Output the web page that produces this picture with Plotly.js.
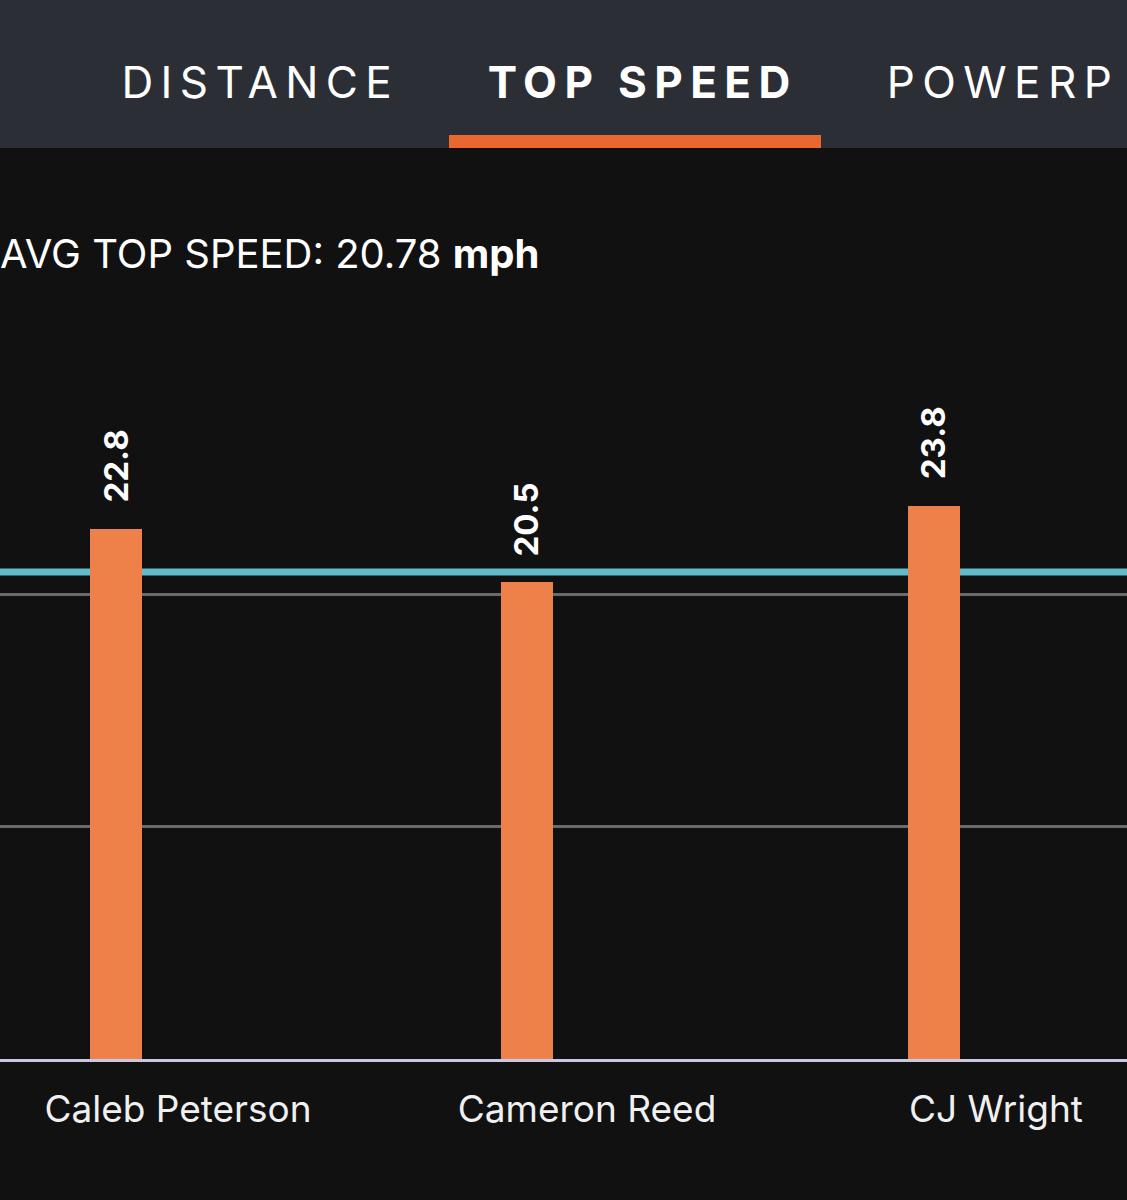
<!DOCTYPE html>
<html>
<head>
<meta charset="utf-8">
<script src="https://cdn.plot.ly/plotly-3.0.1.min.js"></script>
<style>
html,body{margin:0;padding:0;background:#111112;overflow:hidden}
.annotation[data-index="0"] text{letter-spacing:7.4px}
.annotation[data-index="1"] text{letter-spacing:7.4px}
.annotation[data-index="2"] text{letter-spacing:7.4px}
</style>
</head>
<body>
<div id="chart"></div>
<script>
const players = ["Caleb Peterson", "Cameron Reed", "CJ Wright"];
const topSpeeds = [22.8, 20.5, 23.8];
const speedLabels = ["22.8", "20.5", "23.8"];
const gridValues = [10, 20, 30.2];
const avgLineLevel = 20.95;
const tabs = ["DISTANCE", "TOP SPEED", "POWERP"];
const avgText = "AVG TOP SPEED: 20.78 <b>mph</b>";

const W = 1127, H = 1200, mTop = 357, mBottom = 141;
const plotH = H - mTop - mBottom;
const py = p => (H - mBottom - p) / plotH;   // page pixel -> paper y
const px = p => p / W;                       // page pixel -> paper x
const catSpan = 409;
const FONT = "Inter, 'Open Sans', sans-serif";

const bars = {
  type: "bar",
  x: players,
  y: topSpeeds,
  width: 52 / catSpan,
  offset: [-88 / catSpan, -86 / catSpan, -88 / catSpan],
  marker: {color: "#ed8149", line: {width: 0}},
  hoverinfo: "x+y"
};

const valueAnnotations = players.map((name, i) => ({
  x: name, y: topSpeeds[i], xref: "x", yref: "y",
  text: "<b>" + speedLabels[i] + "</b>",
  textangle: -90, showarrow: false,
  xanchor: "center", yanchor: "bottom",
  xshift: [-62, -61, -63][i], yshift: 24,
  font: {family: FONT, size: 33, color: "#ffffff"}
}));

const tabX = [149, 519, 907];
const tabAnnotations = tabs.map((t, i) => ({
  x: px(tabX[i]), y: py(82), xref: "paper", yref: "paper",
  text: i === 1 ? "<b>" + t + "</b>" : t,
  showarrow: false, xanchor: "left", yanchor: "middle",
  font: {family: FONT, size: 44, color: "#ffffff"}
}));

const layout = {
  width: W, height: H,
  margin: {l: 0, r: 0, t: mTop, b: mBottom, pad: 0},
  paper_bgcolor: "#111112",
  plot_bgcolor: "#111112",
  showlegend: false,
  bargap: 0,
  xaxis: {
    type: "category",
    categoryorder: "array", categoryarray: players,
    range: [-178 / catSpan, 2 + 131 / catSpan],
    showgrid: false, zeroline: false,
    showline: true, linecolor: "#c9c9e2", linewidth: 3,
    ticks: "", ticklen: 0, ticklabelstandoff: 16,
    tickfont: {family: FONT, size: 37, color: "#f0f0f0"},
    automargin: false
  },
  yaxis: {
    range: [0, 30.2],
    tickmode: "array", tickvals: gridValues,
    showticklabels: false, ticks: "",
    showgrid: true, gridcolor: "#6a6a6a", gridwidth: 3,
    zeroline: false, showline: false
  },
  shapes: [
    {type: "rect", xref: "paper", yref: "paper", x0: 0, x1: 1, y0: py(148), y1: py(0),
     fillcolor: "#2b2f35", line: {width: 0}, layer: "below"},
    {type: "rect", xref: "paper", yref: "paper", x0: px(449), x1: px(821), y0: py(148), y1: py(135),
     fillcolor: "#ea682f", line: {width: 0}, layer: "below"},
    {type: "line", xref: "paper", yref: "y", x0: 0, x1: 1, y0: avgLineLevel, y1: avgLineLevel,
     line: {color: "#63bac9", width: 7}, layer: "below"}
  ],
  annotations: tabAnnotations.concat([
    {x: px(-2), y: py(254), xref: "paper", yref: "paper", text: avgText,
     showarrow: false, xanchor: "left", yanchor: "middle",
     font: {family: FONT, size: 40, color: "#ffffff"}}
  ], valueAnnotations)
};

Plotly.newPlot("chart", [bars], layout, {displayModeBar: false, staticPlot: true});
</script>
</body>
</html>
